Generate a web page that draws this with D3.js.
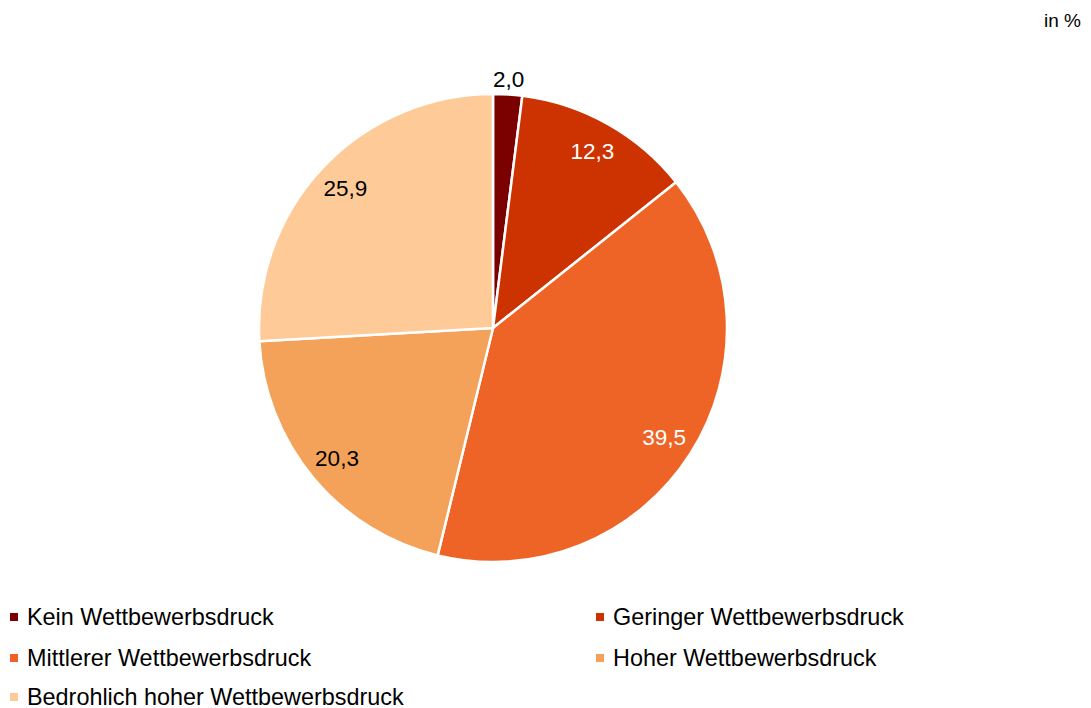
<!DOCTYPE html>
<html><head><meta charset="utf-8">
<script src="https://cdn.jsdelivr.net/npm/d3@7"></script>
<style>body{margin:0;background:#fff;}svg{display:block;font-family:"Liberation Sans",Arial,sans-serif;}</style>
</head><body><svg id="c" width="1091" height="708"></svg>
<script>
const categories = ["Kein Wettbewerbsdruck","Geringer Wettbewerbsdruck","Mittlerer Wettbewerbsdruck","Hoher Wettbewerbsdruck","Bedrohlich hoher Wettbewerbsdruck"];
const values = [2.0, 12.3, 39.5, 20.3, 25.9];
const colors = ["#7b0000","#cc3300","#ee6426","#f4a25a","#fecb98"];
const labelColors = ["#000","#fff","#fff","#000","#000"];
const unitLabel = "in %";

const svg = d3.select("#c");
const cx = 493, cy = 328, R = 234;
const pie = d3.pie().sort(null).value(d => d)(values);
const arc = d3.arc().innerRadius(0).outerRadius(R);
const g = svg.append("g").attr("transform", `translate(${cx},${cy})`);
g.selectAll("path").data(pie).join("path")
  .attr("d", arc).attr("fill", (d,i) => colors[i])
  .attr("stroke", "#fff").attr("stroke-width", 2.5).attr("stroke-linejoin","round");

const fmt = v => v.toFixed(1).replace(".", ",");
const inArc = d3.arc().innerRadius(203).outerRadius(203);
const outArc = d3.arc().innerRadius(249).outerRadius(249);
g.selectAll("text.lbl").data(pie).join("text")
  .attr("class","lbl")
  .attr("transform", (d,i) => `translate(${(i===0 ? outArc : inArc).centroid(d)})`)
  .attr("text-anchor","middle").attr("dy","0.35em")
  .attr("font-size", 22.5).attr("fill", (d,i) => labelColors[i])
  .text(d => fmt(d.data));

svg.append("text").attr("x", 1081).attr("y", 27).attr("text-anchor","end")
  .attr("font-size", 19).attr("fill","#000").text(unitLabel);

const legPos = [[10,617],[596,617],[10,658],[596,658],[10,697]];
const lg = svg.append("g");
categories.forEach((c,i) => {
  const [x,y] = legPos[i];
  lg.append("rect").attr("x", x).attr("y", y-4).attr("width", 8).attr("height", 8).attr("fill", colors[i]);
  lg.append("text").attr("x", x+17).attr("y", y).attr("dy","0.35em")
    .attr("font-size", 23.4).attr("fill","#000").text(c);
});
</script></body></html>
